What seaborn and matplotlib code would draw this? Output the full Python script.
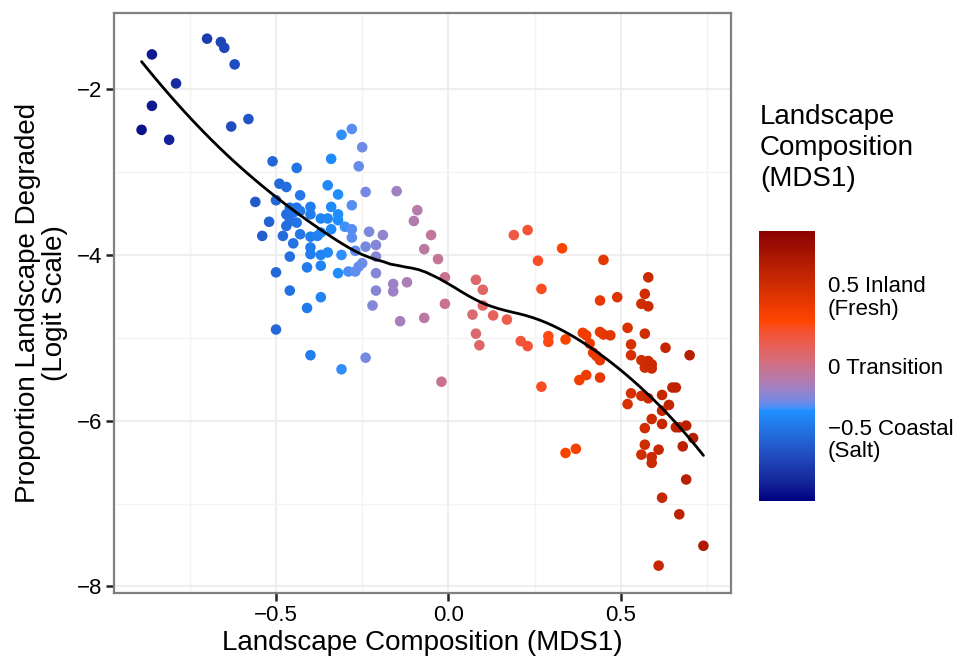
import numpy as np
import pandas as pd
import matplotlib
matplotlib.use("Agg")
import matplotlib.pyplot as plt
import seaborn as sns
from matplotlib.colors import ListedColormap, Normalize, to_rgb
import matplotlib.cm as cm

# ---------------- data ----------------
coastal_x = [-0.86, -0.70, -0.66, -0.65, -0.62, -0.79, -0.86, -0.89, -0.81, -0.63,
             -0.58, -0.51, -0.44, -0.49, -0.47, -0.35, -0.43, -0.56, -0.50, -0.28,
             -0.31, -0.25, -0.34, -0.26, -0.32, -0.24, -0.28, -0.34, -0.40, -0.46,
             -0.44, -0.52, -0.54, -0.47, -0.45, -0.43, -0.40, -0.37, -0.35, -0.32,
             -0.32, -0.46, -0.47, -0.44, -0.34, -0.30, -0.28, -0.48, -0.43, -0.40,
             -0.38, -0.37, -0.28, -0.45, -0.40, -0.40, -0.37, -0.35, -0.31, -0.27,
             -0.24, -0.46, -0.41, -0.37, -0.25, -0.26, -0.29, -0.32, -0.27, -0.50,
             -0.46, -0.37, -0.41, -0.50, -0.40, -0.31]
coastal_y = [-1.58, -1.39, -1.43, -1.50, -1.70, -1.93, -2.20, -2.49, -2.61, -2.45,
             -2.36, -2.87, -2.95, -3.14, -3.18, -3.16, -3.28, -3.36, -3.34, -2.48,
             -2.55, -2.70, -2.84, -2.93, -3.27, -3.24, -3.40, -3.42, -3.42, -3.43,
             -3.43, -3.60, -3.77, -3.51, -3.49, -3.47, -3.51, -3.56, -3.56, -3.51,
             -3.58, -3.59, -3.65, -3.61, -3.69, -3.66, -3.69, -3.77, -3.75, -3.78,
             -3.77, -3.73, -3.79, -3.86, -3.91, -3.99, -4.00, -3.97, -4.00, -3.95,
             -3.90, -4.02, -4.15, -4.13, -4.10, -4.14, -4.20, -4.22, -4.20, -4.21,
             -4.43, -4.51, -4.64, -4.90, -5.21, -5.38]

transition_x = [-0.15, -0.09, -0.10, -0.23, -0.19, -0.21, -0.21, -0.21, -0.16, -0.12,
                -0.16, -0.21, -0.05, -0.07, -0.03, -0.01, -0.24, -0.22, -0.14, -0.07,
                -0.02, -0.01, 0.08, 0.10, 0.10, 0.07, 0.13, 0.17, 0.08, 0.09]
transition_y = [-3.23, -3.46, -3.59, -3.72, -3.76, -3.88, -4.02, -4.22, -4.35, -4.33,
                -4.44, -4.43, -3.76, -3.93, -4.05, -4.27, -5.24, -4.61, -4.80, -4.76,
                -5.53, -4.59, -4.30, -4.42, -4.61, -4.72, -4.73, -4.78, -4.95, -5.09]

inland_x = [0.19, 0.23, 0.26, 0.27, 0.21, 0.23, 0.27, 0.33, 0.45, 0.58,
            0.57, 0.56, 0.58, 0.49, 0.44, 0.52, 0.57, 0.39, 0.40, 0.44,
            0.45, 0.47, 0.53, 0.53, 0.41, 0.42, 0.43, 0.44, 0.56, 0.58,
            0.59, 0.57, 0.59, 0.29, 0.29, 0.34, 0.38, 0.40, 0.44, 0.53,
            0.56, 0.63, 0.70, 0.52, 0.58, 0.62, 0.65, 0.66, 0.64, 0.62,
            0.59, 0.62, 0.57, 0.66, 0.67, 0.69, 0.71, 0.57, 0.68, 0.61,
            0.56, 0.59, 0.59, 0.69, 0.62, 0.67, 0.74, 0.61, 0.34, 0.37]
inland_y = [-3.76, -3.70, -4.07, -4.41, -5.04, -5.10, -5.59, -3.92, -4.06, -4.27,
            -4.47, -4.59, -4.62, -4.51, -4.55, -4.88, -4.95, -4.94, -4.97, -4.93,
            -4.96, -4.97, -5.08, -5.21, -5.07, -5.18, -5.22, -5.27, -5.27, -5.28,
            -5.32, -5.36, -5.37, -4.98, -5.05, -5.02, -5.51, -5.45, -5.48, -5.67,
            -5.70, -5.12, -5.21, -5.80, -5.73, -5.69, -5.60, -5.60, -5.81, -5.88,
            -5.98, -6.04, -6.09, -6.08, -6.08, -6.06, -6.21, -6.29, -6.31, -6.35,
            -6.41, -6.44, -6.51, -6.71, -6.93, -7.13, -7.51, -7.75, -6.39, -6.34]

x_ticks = [-0.5, 0.0, 0.5]
x_ticklabels = ["\u22120.5", "0.0", "0.5"]
y_ticks = [-8, -6, -4, -2]
y_ticklabels = ["\u22128", "\u22126", "\u22124", "\u22122"]
cbar_ticks = [-0.5, 0.0, 0.5]
cbar_labels = ["\u22120.5 Coastal\n(Salt)", "0 Transition", "0.5 Inland\n(Fresh)"]
gradient_colours = ["#000080", "#1E90FF", "#FF4500", "#8B0000"]
colour_limits = (-0.95, 0.95)

df = pd.DataFrame({
    "mds1": coastal_x + transition_x + inland_x,
    "logit": coastal_y + transition_y + inland_y,
})

# ---------------- Lab-interpolated gradient (like ggplot's gradientn) ----------------
def _srgb_to_lab(c):
    c = np.asarray(c, float)
    lin = np.where(c <= 0.04045, c / 12.92, ((c + 0.055) / 1.055) ** 2.4)
    M = np.array([[0.4124, 0.3576, 0.1805], [0.2126, 0.7152, 0.0722], [0.0193, 0.1192, 0.9505]])
    xyz = M @ lin / np.array([0.95047, 1.0, 1.08883])
    f = np.where(xyz > 0.008856, np.cbrt(xyz), 7.787 * xyz + 16 / 116)
    return np.array([116 * f[1] - 16, 500 * (f[0] - f[1]), 200 * (f[1] - f[2])])

def _lab_to_srgb(lab):
    L, a, b = lab
    fy = (L + 16) / 116
    fx = fy + a / 500
    fz = fy - b / 200
    f = np.array([fx, fy, fz])
    xyz = np.where(f ** 3 > 0.008856, f ** 3, (f - 16 / 116) / 7.787) * np.array([0.95047, 1.0, 1.08883])
    Minv = np.array([[3.2406, -1.5372, -0.4986], [-0.9689, 1.8758, 0.0415], [0.0557, -0.2040, 1.0570]])
    lin = Minv @ xyz
    lin = np.clip(lin, 0, 1)
    c = np.where(lin <= 0.0031308, 12.92 * lin, 1.055 * lin ** (1 / 2.4) - 0.055)
    return np.clip(c, 0, 1)

labs = [_srgb_to_lab(to_rgb(c)) for c in gradient_colours]
pos = np.linspace(0, 1, len(labs))
cols = []
for t in np.linspace(0, 1, 256):
    i = min(np.searchsorted(pos, t, side="right") - 1, len(labs) - 2)
    u = (t - pos[i]) / (pos[i + 1] - pos[i])
    cols.append(_lab_to_srgb((1 - u) * labs[i] + u * labs[i + 1]))
cmap = ListedColormap(cols)
norm = Normalize(*colour_limits)

# ---------------- loess smooth (span 0.75, degree 2) ----------------
def loess(x, y, xs, span=0.75):
    x = np.asarray(x); y = np.asarray(y)
    q = int(np.floor(len(x) * span))
    out = []
    for x0 in xs:
        d = np.abs(x - x0)
        h = np.sort(d)[q - 1]
        w = np.clip(1 - (d / h) ** 3, 0, None) ** 3
        X = np.column_stack([np.ones_like(x), x - x0, (x - x0) ** 2])
        W = np.sqrt(w)
        beta, *_ = np.linalg.lstsq(X * W[:, None], y * W, rcond=None)
        out.append(beta[0])
    return np.array(out)

xs = np.linspace(df.mds1.min(), df.mds1.max(), 80)
ys = loess(df.mds1.values, df.logit.values, xs)

# ---------------- figure ----------------
sns.set_theme(style="white")
plt.rcParams["font.family"] = ["Liberation Sans", "DejaVu Sans"]
plt.rcParams["text.color"] = "black"
plt.rcParams["axes.labelcolor"] = "black"
plt.rcParams["xtick.color"] = "black"
plt.rcParams["ytick.color"] = "black"

W, H = 961, 656
fig = plt.figure(figsize=(W / 100, H / 100), dpi=100)
ax = fig.add_axes([114 / W, 1 - 593 / H, (731 - 114) / W, (593 - 13) / H])

ax.set_xlim(-0.97, 0.82)
ax.set_ylim(-8.08, -1.08)
ax.set_xticks(x_ticks)
ax.set_xticklabels(x_ticklabels)
ax.set_yticks(y_ticks)
ax.set_yticklabels(y_ticklabels)
ax.set_xticks([-0.75, -0.25, 0.25, 0.75], minor=True)
ax.set_yticks([-7, -5, -3], minor=True)
ax.grid(which="major", color="#ebebeb", lw=1.2, zorder=0)
ax.grid(which="minor", color="#f3f3f3", lw=1.0, zorder=0)
ax.set_axisbelow(True)

sns.scatterplot(data=df, x="mds1", y="logit", hue="mds1", palette=cmap, hue_norm=norm,
                s=58, linewidth=0, legend=False, ax=ax, zorder=3)
sns.lineplot(x=xs, y=ys, color="black", lw=2.0, ax=ax, zorder=4)

for s in ax.spines.values():
    s.set_color("#808080")
    s.set_linewidth(1.6)
ax.tick_params(which="major", axis="both", length=5.5, width=1.8, color="#222222",
               labelsize=16, labelcolor="black", pad=3, bottom=True, left=True)
ax.tick_params(which="minor", length=0)
ax.set_xlabel("Landscape Composition (MDS1)", fontsize=20, labelpad=3, color="black")
ax.set_ylabel("Proportion Landscape Degraded\n(Logit Scale)", fontsize=20, labelpad=6,
              linespacing=1.05, color="black")

# colour bar
cax = fig.add_axes([759 / W, 1 - 501 / H, 56 / W, 270 / H])
sm = cm.ScalarMappable(norm=norm, cmap=cmap)
cb = fig.colorbar(sm, cax=cax)
cb.outline.set_visible(False)
cb.set_ticks(cbar_ticks)
cb.set_ticklabels(cbar_labels)
cax.yaxis.set_ticks_position("both")
cax.tick_params(axis="y", direction="in", length=8.5, width=1, color="white",
                labelsize=16, labelcolor="black", pad=9, labelleft=False, labelright=True)
for t in cax.get_yticklabels():
    t.set_linespacing(1.1)

fig.text(760 / W, 1 - 104 / H, "Landscape\nComposition\n(MDS1)", fontsize=20,
         va="top", ha="left", linespacing=1.25, color="black")

fig.savefig("out.png", dpi=100)
